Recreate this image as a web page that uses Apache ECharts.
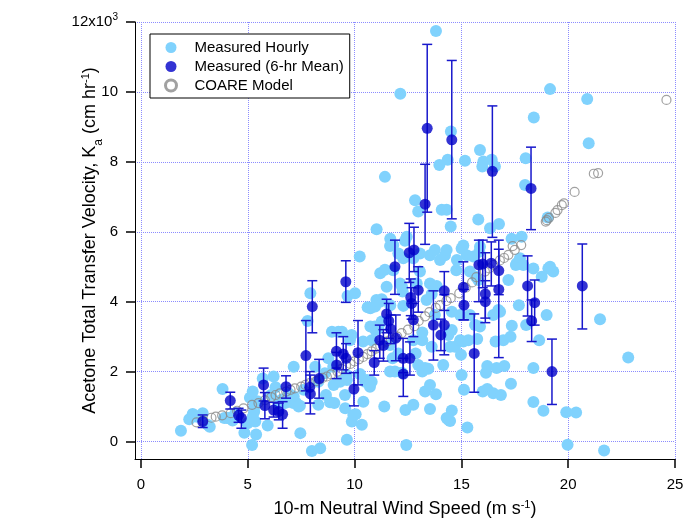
<!DOCTYPE html>
<html>
<head>
<meta charset="utf-8">
<script src="https://cdn.jsdelivr.net/npm/echarts@6/dist/echarts.min.js"></script>
<style>
  html, body { margin: 0; padding: 0; background: #fff; }
  #chart { width: 684px; height: 519px; }
</style>
</head>
<body>
<div id="chart"></div>
<script>
// wind speed (m/s), transfer velocity in 10^3 cm/hr
const hourlyPoints = [
  [1.87,0.31],[2.26,0.64],[2.42,0.79],[2.47,0.76],[2.62,0.71],[2.89,0.81],[3.12,0.48],[3.22,0.42],
  [3.82,1.50],[3.90,0.67],[4.03,0.67],[4.13,0.67],[4.29,0.60],[4.42,0.81],[4.84,0.25],[4.99,0.52],
  [5.10,1.25],[5.20,-0.10],[5.23,1.43],[5.23,0.71],[5.31,1.00],[5.30,0.85],[5.35,0.57],[5.39,0.20],
  [5.45,1.15],[5.70,1.80],[5.93,0.46],[6.09,1.33],[6.21,1.86],[6.30,1.55],[6.43,1.10],[6.60,1.20],
  [6.74,1.10],[6.91,1.38],[6.98,1.19],[7.13,1.10],[7.15,2.14],[7.15,1.29],[7.27,1.10],[7.38,1.00],
  [7.44,1.02],[7.46,0.24],[7.62,1.48],[7.80,3.45],[7.93,4.24],[8.00,-0.27],[8.16,2.14],[8.30,1.05],
  [8.30,1.71],[8.39,-0.19],[8.61,1.95],[8.66,1.33],[8.77,2.38],[8.85,1.12],[8.94,3.14],[9.00,2.14],
  [9.02,1.62],[9.05,1.10],[9.24,3.14],[9.32,1.71],[9.41,3.14],[9.55,1.33],[9.56,0.95],[9.63,1.90],
  [9.64,0.05],[9.64,1.76],[9.67,4.16],[9.78,2.90],[9.86,3.05],[9.87,0.57],[9.94,0.76],[10.02,4.24],
  [10.05,0.78],[10.24,5.29],[10.25,1.93],[10.34,0.48],[10.40,2.86],[10.41,1.14],[10.49,1.71],[10.58,1.76],
  [10.61,3.84],[10.72,1.57],[10.74,3.81],[10.74,3.29],[10.80,2.90],[10.80,1.71],[10.95,3.29],[10.96,3.86],
  [10.97,3.19],[11.02,4.05],[11.03,6.07],[11.11,3.24],[11.19,4.00],[11.20,4.81],[11.27,3.43],[11.27,4.07],
  [11.39,1.00],[11.42,7.57],[11.42,4.91],[11.50,4.43],[11.66,5.59],[11.67,5.80],[11.67,3.90],[11.66,2.76],
  [11.66,2.00],[11.78,2.38],[11.81,4.90],[11.81,5.62],[11.89,2.00],[12.05,5.38],[12.05,2.52],[12.13,4.52],
  [12.14,9.95],[12.22,1.97],[12.22,4.43],[12.25,4.29],[12.28,3.88],[12.28,5.24],[12.36,5.74],[12.38,0.90],
  [12.42,-0.10],[12.44,5.86],[12.75,1.05],[12.75,2.90],[12.75,5.24],[12.83,6.90],[12.86,2.52],[12.91,4.52],
  [12.98,6.58],[12.98,2.19],[13.06,4.86],[13.06,5.38],[13.17,2.00],[13.17,3.12],[13.17,2.90],[13.30,2.10],
  [13.30,1.43],[13.37,4.05],[13.45,2.08],[13.53,1.62],[13.53,0.93],[13.53,5.33],[13.53,4.52],[13.61,4.22],
  [13.61,2.71],[13.76,5.48],[13.76,3.62],[13.81,1.35],[13.81,11.74],[13.84,4.45],[13.97,7.91],[14.00,5.19],
  [14.08,6.63],[14.15,2.19],[14.23,5.33],[14.31,6.63],[14.31,5.48],[14.31,0.67],[14.36,8.06],[14.39,0.62],
  [14.39,3.05],[14.47,2.71],[14.50,6.15],[14.51,8.87],[14.55,3.19],[14.55,3.71],[14.55,0.89],[14.47,0.59],
  [14.70,2.71],[14.76,4.90],[14.79,5.19],[14.94,2.90],[14.94,3.62],[14.98,2.48],[15.01,5.52],[15.01,1.90],
  [15.09,5.61],[15.09,2.86],[15.12,1.48],[15.17,8.03],[15.25,5.33],[15.28,0.40],[15.32,2.90],[15.40,4.86],
  [15.40,3.62],[15.56,5.29],[15.64,3.33],[15.68,4.71],[15.74,2.93],[15.79,6.35],[15.79,4.62],[15.84,5.43],
  [15.87,8.34],[15.87,5.57],[15.87,3.29],[15.98,7.87],[16.00,1.43],[16.03,8.01],[16.15,1.97],[16.21,2.16],
  [16.21,1.50],[16.34,6.10],[16.42,8.06],[16.49,1.38],[16.49,3.62],[16.57,7.87],[16.60,2.86],[16.65,2.10],
  [16.73,3.76],[16.76,6.22],[16.81,3.71],[16.85,1.33],[16.96,2.90],[17.01,2.16],[17.20,4.62],[17.30,3.00],
  [17.32,1.65],[17.35,5.80],[17.36,3.31],[17.55,5.05],[17.59,5.10],[17.69,3.90],[17.74,5.24],[17.82,5.86],
  [17.90,5.05],[17.98,7.34],[18.01,8.10],[18.03,3.33],[18.37,4.95],[18.37,2.10],[18.37,1.13],[18.39,9.27],
  [18.64,2.90],[18.76,4.71],[18.84,0.88],[18.99,3.62],[19.04,6.41],[19.07,4.95],[19.15,10.08],[19.15,5.00],
  [19.30,4.86],[19.91,0.84],[19.97,-0.09],[20.37,0.83],[20.89,9.80],[20.96,8.53],[21.49,3.50],[21.68,-0.26],
  [22.81,2.40]
]

// [wind, mean, low, high]
const meanPoints = [
  [2.89,0.57,0.40,0.76],[4.18,1.17,0.93,1.41],[4.57,0.75,0.55,0.95],[4.70,0.67,0.38,0.90],
  [5.74,1.62,1.16,2.10],[5.80,1.03,0.65,1.40],[6.21,0.90,0.70,1.12],[6.45,0.86,0.62,1.10],
  [6.63,0.78,0.38,1.14],[6.79,1.57,1.24,1.88],[7.72,2.46,1.45,3.46],[7.90,1.55,1.10,2.00],
  [7.93,1.36,0.79,1.90],[8.02,3.86,3.11,4.60],[8.34,1.80,1.24,2.35],[9.15,2.58,2.10,3.11],
  [9.16,2.19,1.80,2.55],[9.47,2.50,2.05,3.00],[9.60,2.38,1.95,2.80],[9.59,4.57,3.98,5.17],
  [9.97,1.50,1.02,1.97],[10.16,2.54,1.62,3.46],[10.92,2.26,1.90,2.60],[11.18,2.90,2.38,3.33],
  [11.35,2.75,2.30,3.20],[11.50,3.65,3.11,4.07],[11.60,3.45,2.95,3.95],[11.69,3.22,2.80,3.62],
  [11.89,5.00,4.21,5.76],[11.93,2.96,2.31,3.62],[12.27,2.38,1.97,2.95],[12.28,1.93,1.29,2.38],
  [12.59,2.38,1.90,2.85],[12.56,5.40,4.55,6.24],[12.78,5.48,4.86,6.13],[12.63,4.12,3.60,4.65],
  [12.67,3.95,3.50,4.40],[12.75,3.48,3.00,3.95],[12.98,4.33,3.70,5.00],[13.30,6.79,5.64,7.93],
  [13.40,8.96,6.56,11.36],[13.69,3.33,2.33,4.31],[14.04,3.05,2.60,3.50],[14.20,4.31,3.75,4.86],
  [14.20,3.33,2.48,4.20],[14.55,8.63,6.37,10.90],[15.09,4.41,3.48,5.14],[15.12,3.90,3.48,4.35],
  [15.60,2.52,1.41,3.65],[15.82,5.05,4.00,5.76],[16.00,5.08,4.40,5.76],[16.12,4.22,3.53,5.40],
  [16.12,4.00,3.40,4.60],[16.40,5.10,4.45,5.71],[16.45,7.73,5.84,9.60],[16.75,4.89,4.20,5.50],
  [16.75,4.35,2.40,5.76],[18.10,4.45,3.59,5.31],[18.26,7.24,6.06,8.42],[18.29,3.45,2.86,4.05],
  [18.43,3.97,3.33,4.62],[19.24,2.00,1.06,2.93],[20.66,4.45,3.22,5.65]
]

const coarePoints = [
  [2.60,0.55],[2.90,0.60],[3.30,0.68],[3.50,0.71],[3.80,0.75],[4.20,0.81],[4.50,0.88],[4.80,0.95],
  [5.20,1.05],[5.50,1.10],[5.80,1.18],[6.10,1.27],[6.30,1.33],[6.50,1.38],[6.80,1.43],[7.00,1.48],
  [7.20,1.52],[7.50,1.57],[7.70,1.62],[7.90,1.67],[8.20,1.73],[8.35,1.77],[8.50,1.82],[8.70,1.86],
  [8.90,1.92],[9.20,2.00],[9.40,2.08],[9.60,2.17],[9.80,2.22],[10.00,2.29],[10.20,2.35],[10.40,2.42],
  [10.60,2.50],[10.80,2.58],[11.00,2.66],[11.20,2.74],[11.50,2.86],[11.70,2.92],[12.00,3.00],[12.20,3.10],
  [12.50,3.20],[12.80,3.30],[13.00,3.45],[13.30,3.58],[13.50,3.70],[13.80,3.82],[14.00,3.90],[14.30,4.02],
  [14.50,4.10],[14.90,4.24],[15.20,4.40],[15.50,4.55],[15.70,4.70],[16.10,4.86],[16.30,4.95],[16.50,5.05],
  [16.80,5.18],[17.00,5.25],[17.20,5.34],[17.50,5.48],[17.80,5.62],[17.40,5.59],[18.95,6.29],[19.00,6.33],
  [19.10,6.40],[19.40,6.54],[19.50,6.62],[19.70,6.76],[19.80,6.81],[20.30,7.14],[21.20,7.66],[21.40,7.68],
  [24.60,9.77]
]

const xTicks = [0, 5, 10, 15, 20, 25]
const yTicks = [0, 2, 4, 6, 8, 10, 12]

const FONT = '"Liberation Sans", Arial, sans-serif'
const LIGHT = '#80d2fd'
const DARK = '#0000c8'
const BAR = '#1818cc'
const GREY = '#8a8a8a'

const renderErrorBar = (params, api) => {
  const x = api.value(0)
  const lo = api.coord([x, api.value(1)])
  const hi = api.coord([x, api.value(2)])
  const w = 5
  const style = { stroke: BAR, lineWidth: 1.5 }
  return {
    type: 'group',
    children: [
      { type: 'line', shape: { x1: lo[0], y1: lo[1], x2: hi[0], y2: hi[1] }, style },
      { type: 'line', shape: { x1: hi[0] - w, y1: hi[1], x2: hi[0] + w, y2: hi[1] }, style },
      { type: 'line', shape: { x1: lo[0] - w, y1: lo[1], x2: lo[0] + w, y2: lo[1] }, style }
    ]
  }
}

const chart = echarts.init(document.getElementById('chart'), null, { renderer: 'canvas' })

const gridLine = { show: true, lineStyle: { color: '#8c8cff', type: 'dotted', width: 1 } }

chart.setOption({
  animation: false,
  backgroundColor: '#fff',
  textStyle: { fontFamily: FONT },
  grid: { left: 135, right: 9, top: 22, bottom: 60, outerBoundsMode: 'none', containLabel: false },
  legend: {
    orient: 'vertical',
    left: 150,
    top: 34,
    padding: [5, 6, 4, 14],
    itemGap: 2,
    itemWidth: 37,
    itemHeight: 11,
    borderColor: '#000',
    borderWidth: 1,
    backgroundColor: '#fff',
    selectedMode: false,
    textStyle: { fontFamily: FONT, fontSize: 15, color: '#000', lineHeight: 17 },
    data: [
      { name: 'Measured Hourly', icon: 'circle' },
      { name: 'Measured (6-hr Mean)', icon: 'circle' },
      { name: 'COARE Model', icon: 'circle', itemStyle: { color: '#fff', borderColor: GREY, borderWidth: 3 } }
    ]
  },
  xAxis: {
    type: 'value',
    min: -0.28,
    max: 25,
    splitNumber: 5,
    name: '{t|10-m Neutral Wind Speed (m s}{sup|-1}{t|)}',
    nameLocation: 'middle',
    nameGap: 40,
    nameMoveOverlap: false,
    nameTextStyle: {
      rich: {
        t: { fontFamily: FONT, fontSize: 18, color: '#000' },
        sup: { fontFamily: FONT, fontSize: 11, color: '#000', verticalAlign: 'top', padding: [0, 0, 10, 0] }
      }
    },
    axisLine: { show: true, onZero: false, lineStyle: { color: '#000', width: 1 } },
    axisTick: { show: true, length: 9, customValues: xTicks, lineStyle: { color: '#000', width: 1.5 } },
    axisLabel: {
      customValues: xTicks,
      color: '#000', fontSize: 15, fontFamily: FONT, margin: 18,
      formatter: v => (v < 0 ? '' : String(v))
    },
    splitLine: gridLine
  },
  yAxis: {
    type: 'value',
    min: -0.5,
    max: 12,
    splitNumber: 6,
    name: '{t|Acetone Total Transfer Velocity, K}{sub|a}{t| (cm hr}{sup|-1}{t|)}',
    nameLocation: 'middle',
    nameRotate: 90,
    nameGap: 34,
    nameMoveOverlap: false,
    nameTextStyle: {
      rich: {
        t: { fontFamily: FONT, fontSize: 18, color: '#000' },
        sub: { fontFamily: FONT, fontSize: 12, color: '#000', verticalAlign: 'bottom', padding: [0, 0, -4, 0] },
        sup: { fontFamily: FONT, fontSize: 11, color: '#000', verticalAlign: 'top', padding: [0, 0, 10, 0] }
      }
    },
    axisLine: { show: true, onZero: false, lineStyle: { color: '#000', width: 1 } },
    axisTick: { show: true, length: 9, customValues: yTicks, lineStyle: { color: '#000', width: 1.5 } },
    axisLabel: {
      customValues: yTicks,
      color: '#000', fontSize: 15, fontFamily: FONT, margin: 17,
      formatter: v => (v < 0 ? '' : v === 12 ? '{t|12x10}{sup|3}' : String(v)),
      rich: {
        t: { fontFamily: FONT, fontSize: 15, color: '#000' },
        sup: { fontFamily: FONT, fontSize: 10, color: '#000', verticalAlign: 'top', padding: [0, 0, 9, 0] }
      }
    },
    splitLine: gridLine
  },
  series: [
    {
      name: 'Measured Hourly',
      type: 'scatter',
      z: 1,
      symbol: 'circle',
      symbolSize: 12,
      itemStyle: { color: LIGHT, opacity: 1 },
      data: hourlyPoints
    },
    {
      name: 'COARE Model',
      type: 'scatter',
      z: 2,
      symbol: 'circle',
      symbolSize: 9,
      itemStyle: { color: 'rgba(255,255,255,0)', borderColor: GREY, borderWidth: 1.2 },
      data: coarePoints
    },
    {
      name: 'errorbars',
      type: 'custom',
      z: 3,
      renderItem: renderErrorBar,
      encode: { x: 0, y: [1, 2] },
      data: meanPoints.map(p => [p[0], p[2], p[3]])
    },
    {
      name: 'Measured (6-hr Mean)',
      type: 'scatter',
      z: 4,
      symbol: 'circle',
      symbolSize: 11,
      itemStyle: { color: DARK },
      data: meanPoints.map(p => [p[0], p[1]])
    }
  ]
})
</script>
</body>
</html>
